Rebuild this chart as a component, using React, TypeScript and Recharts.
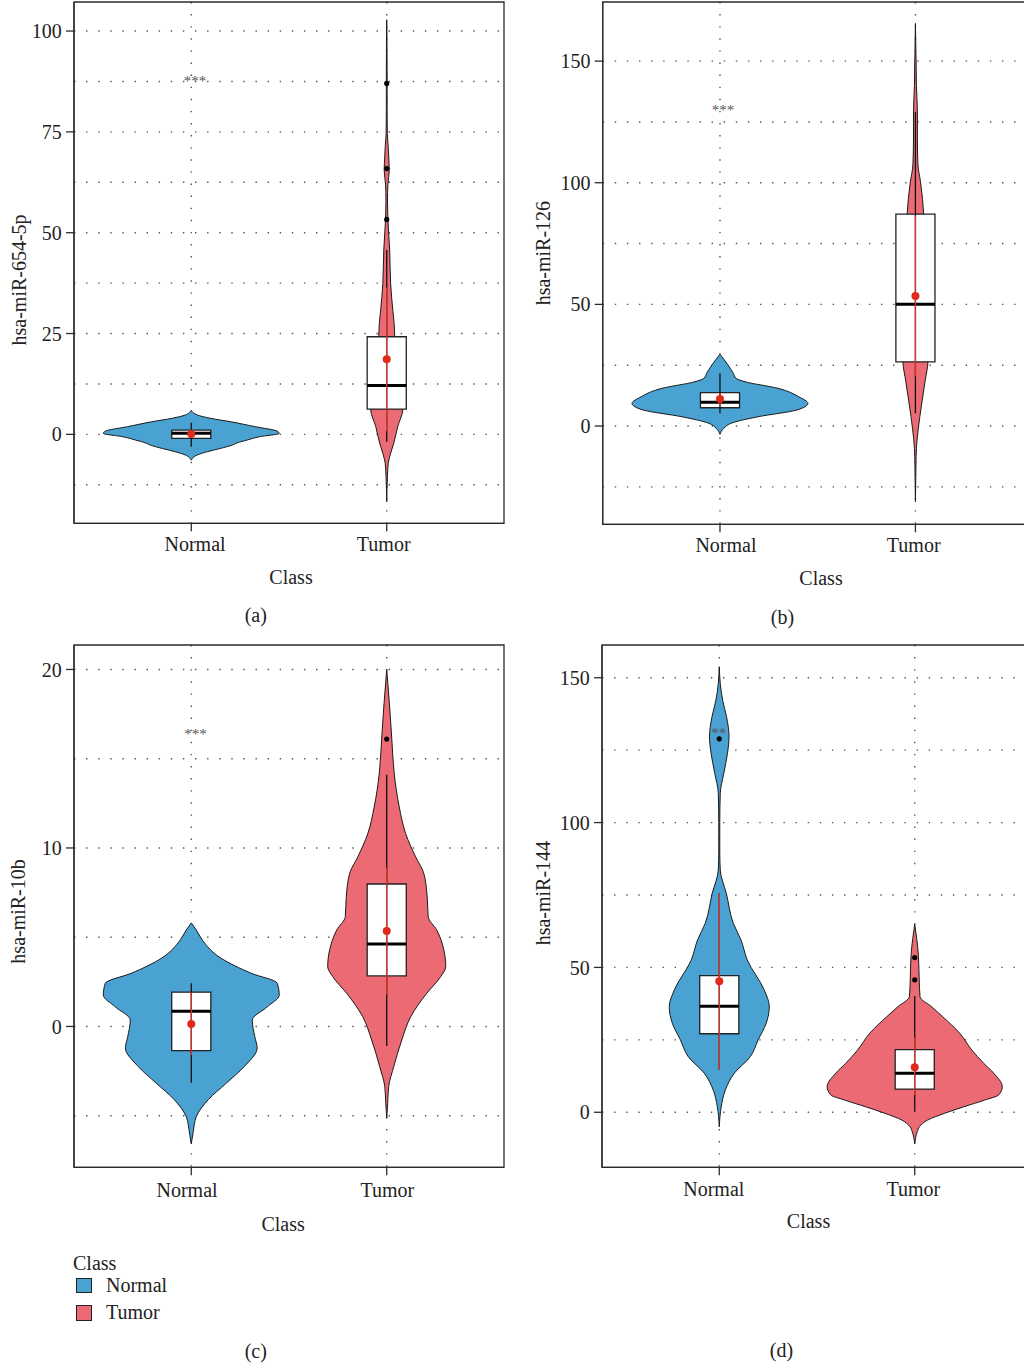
import React from 'react';
import {
  ComposedChart,
  Area,
  XAxis,
  YAxis,
  CartesianGrid,
  ReferenceArea,
  ReferenceLine,
  ReferenceDot,
  Legend,
} from 'recharts';

const FONT = "'Liberation Serif', 'Times New Roman', serif";

// ---------- categories ----------
const CLASSES = ['Normal', 'Tumor'];
const CLASS_X = [1, 2];
const FILL: Record<string, string> = { Normal: '#4AA2D3', Tumor: '#EC6A73' };

// ---------- panel (a): hsa-miR-654-5p ----------
// violin: [expression value, half width of density (category units)]
const A_NORMAL_VIOLIN: [number, number][] = [
  [-6.4, 0], [-5.1, 0.031], [-4.3, 0.082], [-3.5, 0.148], [-2.65, 0.21], [-2.1, 0.235],
  [-1.4, 0.286], [-0.6, 0.348], [0.25, 0.45], [0.8, 0.44], [1.9, 0.327], [3.1, 0.205],
  [4.0, 0.097], [4.8, 0.031], [6.0, 0],
];
const A_TUMOR_VIOLIN: [number, number][] = [
  [-16.7, 0], [-10.5, 0.0036], [-7.2, 0.0077], [-4.7, 0.02], [-2.2, 0.036], [1.9, 0.056],
  [6.2, 0.082], [9, 0.077], [12, 0.066], [15, 0.056], [18, 0.051], [21, 0.046], [24.2, 0.041],
  [27.5, 0.038], [30.8, 0.031], [37.4, 0.02], [45.7, 0.015], [51.9, 0.0077], [57.9, 0.004],
  [62, 0.006], [65.5, 0.013], [69, 0.01], [71.3, 0.0077], [74.6, 0.003], [80, 0.002],
  [90, 0.002], [102.8, 0],
];
const A_STATS = [
  { cls: 'Normal', lower: -3.1, q1: -1.0, median: 0.25, q3: 1.07, upper: 2.9, mean: 0.07, sdLow: -0.9, sdHigh: 1.0, outliers: [] as number[] },
  { cls: 'Tumor', lower: -1.8, q1: 6.27, median: 12.1, q3: 24.2, upper: 45.7, mean: 18.6, sdLow: 0.8, sdHigh: 36.4, outliers: [53.3, 65.9, 87.0] },
];
const A_TICKS = [0, 25, 50, 75, 100];
const A_GRID = [-12.5, 0, 12.5, 25, 37.5, 50, 62.5, 75, 87.5, 100];
const A_DOMAIN: [number, number] = [-22.05, 107.2];
const A_SIG = { text: '***', x: 1.019, y: 86.3 };

// ---------- panel (b): hsa-miR-126 ----------
const B_NORMAL_VIOLIN: [number, number][] = [
  [-3.4, 0], [-0.9, 0.02], [1.1, 0.056], [3.8, 0.194], [6.6, 0.394], [9.3, 0.45], [12.0, 0.404],
  [15.5, 0.297], [18.2, 0.128], [19.6, 0.082], [21.7, 0.068], [25.1, 0.041], [29.5, 0],
];
const B_TUMOR_VIOLIN: [number, number][] = [
  [-31.1, 0], [-16, 0.0026], [-9.2, 0.005], [-0.9, 0.015], [8.6, 0.031], [18.2, 0.049],
  [26.4, 0.064], [35, 0.066], [45, 0.066], [55, 0.061], [65, 0.056], [75, 0.051], [87.4, 0.042],
  [93.6, 0.036], [100.4, 0.026], [107.3, 0.013], [118, 0.01], [129.2, 0.01], [140, 0.005],
  [148.4, 0.0036], [165.5, 0],
];
const B_STATS = [
  { cls: 'Normal', lower: 5.2, q1: 7.5, median: 9.8, q3: 13.7, upper: 21.7, mean: 11.1, sdLow: 8.6, sdHigh: 13.6, outliers: [] as number[] },
  { cls: 'Tumor', lower: 5.2, q1: 26.4, median: 50.1, q3: 87.1, upper: 129.2, mean: 53.4, sdLow: 20.4, sdHigh: 86.4, outliers: [] as number[] },
];
const B_TICKS = [0, 50, 100, 150];
const B_GRID = [-25, 0, 25, 50, 75, 100, 125, 150];
const B_DOMAIN: [number, number] = [-40.4, 174.3];
const B_SIG = { text: '***', x: 1.015, y: 128 };

// ---------- panel (c): hsa-miR-10b ----------
const C_NORMAL_VIOLIN: [number, number][] = [
  [-6.58, 0], [-5.9, 0.01], [-5.05, 0.026], [-4.1, 0.087], [-3.18, 0.179], [-2.25, 0.271],
  [-1.2, 0.337], [-0.57, 0.325], [0.36, 0.312], [1.1, 0.389], [1.76, 0.45], [2.42, 0.44],
  [2.98, 0.307], [3.82, 0.153], [4.85, 0.056], [5.4, 0.026], [5.8, 0],
];
const C_TUMOR_VIOLIN: [number, number][] = [
  [-5.14, 0], [-4.3, 0.005], [-3.37, 0.01], [-2.25, 0.036], [-0.76, 0.077], [0.55, 0.123],
  [1.86, 0.205], [2.79, 0.276], [3.35, 0.302], [4.3, 0.292], [5.4, 0.256], [6.15, 0.212],
  [7.27, 0.207], [8.6, 0.189], [9.5, 0.148], [10.8, 0.097], [12.3, 0.064], [14.2, 0.038],
  [16.1, 0.026], [17.9, 0.015], [20.0, 0],
];
const C_STATS = [
  { cls: 'Normal', lower: -3.15, q1: -1.35, median: 0.85, q3: 1.92, upper: 2.42, mean: 0.14, sdLow: -1.6, sdHigh: 1.9, outliers: [] as number[] },
  { cls: 'Tumor', lower: -1.09, q1: 2.83, median: 4.62, q3: 7.98, upper: 14.1, mean: 5.35, sdLow: 1.8, sdHigh: 8.9, outliers: [16.1] },
];
const C_TICKS = [0, 10, 20];
const C_GRID = [-5, 0, 5, 10, 15, 20];
const C_DOMAIN: [number, number] = [-7.89, 21.37];
const C_SIG = { text: '***', x: 1.022, y: 16.08 };

// ---------- panel (d): hsa-miR-144 ----------
const D_NORMAL_VIOLIN: [number, number][] = [
  [-5, 0], [1.9, 0.01], [7.7, 0.031], [13.5, 0.077], [19.2, 0.159], [25, 0.199], [30.7, 0.24],
  [36.5, 0.256], [42.2, 0.23], [52.6, 0.143], [59.5, 0.111], [65.2, 0.072], [75.6, 0.036],
  [83.6, 0.005], [90, 0.0026], [100, 0.0026], [110.1, 0.005], [117, 0.023], [123.9, 0.042],
  [129.7, 0.05], [136.6, 0.037], [142.3, 0.017], [148, 0.005], [153.8, 0],
];
const D_TUMOR_VIOLIN: [number, number][] = [
  [-10.9, 0], [-6.7, 0.013], [-5, 0.024], [-2.7, 0.066], [-0.35, 0.153], [1.9, 0.251],
  [4.2, 0.358], [6.0, 0.43], [8.8, 0.448], [13.5, 0.404], [16.9, 0.353], [21.5, 0.292],
  [27.3, 0.23], [33, 0.143], [36.5, 0.085], [39.9, 0.027], [45.7, 0.023], [53.7, 0.019],
  [57.2, 0.015], [60, 0.01], [64.9, 0],
];
const D_STATS = [
  { cls: 'Normal', lower: 14.8, q1: 27.1, median: 36.6, q3: 47.2, upper: 75.6, mean: 45.2, sdLow: 14.8, sdHigh: 75.6, outliers: [128.9] },
  { cls: 'Tumor', lower: 0.2, q1: 8.0, median: 13.5, q3: 21.6, upper: 40.1, mean: 15.5, sdLow: 6.0, sdHigh: 25.8, outliers: [45.7, 53.4] },
];
const D_TICKS = [0, 50, 100, 150];
const D_GRID = [0, 25, 50, 75, 100, 125, 150];
const D_DOMAIN: [number, number] = [-19, 161.3];
const D_SIG = { text: '**', x: 0.997, y: 129.3 };

// ---------- helpers ----------
type Stat = (typeof A_STATS)[number];

function buildRows(normal: [number, number][], tumor: [number, number][]) {
  const rows: any[] = [];
  normal.forEach(([v, w]) => rows.push({ v, Normal: [CLASS_X[0] - w, CLASS_X[0] + w], Tumor: [null, null] }));
  tumor.forEach(([v, w]) => rows.push({ v, Normal: [null, null], Tumor: [CLASS_X[1] - w, CLASS_X[1] + w] }));
  return rows;
}

const X_DOMAIN: [number, number] = [0.4, 2.6];
const BOX_HALF = 0.1;
const AXIS_LINE = { stroke: '#2b2b2b', strokeWidth: 1.3 };
const Y_TICK = { fontSize: 20, fontFamily: FONT, fill: '#222' };

const makeXTick = (dxs: number[]) => (props: any) => {
  const { x, y, payload } = props;
  const i = Math.round(payload.value) - 1;
  return (
    <text x={x + dxs[i]} y={y} dy="0.71em" textAnchor="middle" fontSize={20} fontFamily={FONT} fill="#222">
      {CLASSES[i]}
    </text>
  );
};

const makeXLabel = (text: string, dx: number, dy: number) => (props: any) => {
  const vb = props.viewBox || {};
  const x = vb.x + vb.width / 2 + dx;
  const y = vb.y + dy;
  return (
    <text x={x} y={y} textAnchor="middle" fontSize={20} fontFamily={FONT} fill="#222">
      {text}
    </text>
  );
};

const makeYLabel = (text: string, dx: number, dy: number) => (props: any) => {
  const vb = props.viewBox || {};
  const x = vb.x + dx;
  const y = vb.y + vb.height / 2 + dy;
  return (
    <text x={x} y={y} dy="0.33em" transform={`rotate(-90, ${x}, ${y})`} textAnchor="middle" fontSize={20} fontFamily={FONT} fill="#222">
      {text}
    </text>
  );
};

const makeSig = (text: string) => (props: any) => (
  <text x={props.cx} y={props.cy} textAnchor="middle" fontSize={15} fontFamily={FONT} fill="#555">
    {text}
  </text>
);

const LegendContent = (props: any) => {
  const payload = (props.payload || []).filter((e: any) => CLASSES.includes(e.value));
  return (
    <div style={{ position: 'relative', fontFamily: FONT, fontSize: 20, color: '#222', lineHeight: '24px', width: 200, height: 80 }}>
      <div style={{ position: 'absolute', left: 0, top: 0, whiteSpace: 'nowrap' }}>Class</div>
      {payload.map((e: any, i: number) => (
        <div key={e.value} style={{ position: 'absolute', left: 0, top: 20.6 + i * 27.7, height: 27.7, display: 'flex', alignItems: 'center', whiteSpace: 'nowrap' }}>
          <span style={{ display: 'inline-block', width: 13.7, height: 13.7, marginLeft: 3, marginRight: 14.3, background: FILL[e.value], border: '1px solid #222' }} />
          <span style={{ lineHeight: '27.7px' }}>{e.value}</span>
        </div>
      ))}
    </div>
  );
};

const PANELS = [
  {
    key: 'a', left: 0, top: 0, margin: { top: 2, right: 16, left: 14, bottom: 10.7 },
    rows: buildRows(A_NORMAL_VIOLIN, A_TUMOR_VIOLIN), stats: A_STATS, ticks: A_TICKS, grid: A_GRID, domain: A_DOMAIN, sig: A_SIG,
    xTickMargin: 5.2, xTick: makeXTick([3.8, -3]), xLabel: makeXLabel('Class', 2, 60.7), yLabel: makeYLabel('hsa-miR-654-5p', 5, 17.3), legend: false,
  },
  {
    key: 'b', left: 528, top: 0, margin: { top: 2, right: 15.3, left: 14.7, bottom: 9.7 },
    rows: buildRows(B_NORMAL_VIOLIN, B_TUMOR_VIOLIN), stats: B_STATS, ticks: B_TICKS, grid: B_GRID, domain: B_DOMAIN, sig: B_SIG,
    xTickMargin: 5.2, xTick: makeXTick([6, -1.7]), xLabel: makeXLabel('Class', 3.3, 60.7), yLabel: makeYLabel('hsa-miR-126', 0.6, -10), legend: false,
  },
  {
    key: 'c', left: 0, top: 643, margin: { top: 2, right: 16, left: 14, bottom: 9.7 },
    rows: buildRows(C_NORMAL_VIOLIN, C_TUMOR_VIOLIN), stats: C_STATS, ticks: C_TICKS, grid: C_GRID, domain: C_DOMAIN, sig: C_SIG,
    xTickMargin: 7.8, xTick: makeXTick([-4.2, 0.7]), xLabel: makeXLabel('Class', -5.9, 63.4), yLabel: makeYLabel('hsa-miR-10b', 4.3, 5.3), legend: true,
  },
  {
    key: 'd', left: 528, top: 643, margin: { top: 2, right: 16, left: 14, bottom: 9.7 },
    rows: buildRows(D_NORMAL_VIOLIN, D_TUMOR_VIOLIN), stats: D_STATS, ticks: D_TICKS, grid: D_GRID, domain: D_DOMAIN, sig: D_SIG,
    xTickMargin: 6.5, xTick: makeXTick([-5.5, -1.3]), xLabel: makeXLabel('Class', -8.5, 61), yLabel: makeYLabel('hsa-miR-144', 1.5, -13), legend: false,
  },
];

const CAPTIONS = [
  { text: '(a)', x: 255.8, y: 603.4 },
  { text: '(b)', x: 782.5, y: 604.5 },
  { text: '(c)', x: 255.8, y: 1338.5 },
  { text: '(d)', x: 781.5, y: 1338.2 },
];

function boxElements(stats: Stat[]) {
  const els: any[] = [];
  stats.forEach((s, i) => {
    const c = CLASS_X[CLASSES.indexOf(s.cls)];
    els.push(
      <ReferenceArea key={`box-${i}`} x1={c - BOX_HALF} x2={c + BOX_HALF} y1={s.q1} y2={s.q3} fill="#fff" fillOpacity={1} stroke="#222" strokeWidth={1.3} zIndex={200} />
    );
  });
  stats.forEach((s, i) => {
    const c = CLASS_X[CLASSES.indexOf(s.cls)];
    els.push(
      <ReferenceLine key={`wh-${i}`} segment={[{ x: c, y: s.lower }, { x: c, y: s.upper }]} stroke="#111" strokeWidth={1.3} zIndex={250} />
    );
    els.push(
      <ReferenceLine key={`med-${i}`} segment={[{ x: c - BOX_HALF, y: s.median }, { x: c + BOX_HALF, y: s.median }]} stroke="#000" strokeWidth={3} zIndex={300} />
    );
    els.push(
      <ReferenceLine key={`sd-${i}`} segment={[{ x: c, y: s.sdLow }, { x: c, y: s.sdHigh }]} stroke="#E0352A" strokeWidth={1.3} zIndex={350} />
    );
    els.push(
      <ReferenceDot key={`mean-${i}`} x={c} y={s.mean} r={4} fill="#E02A1B" stroke="none" zIndex={400} />
    );
    s.outliers.forEach((o, j) => {
      els.push(<ReferenceDot key={`out-${i}-${j}`} x={c} y={o} r={2.6} fill="#000" stroke="none" zIndex={450} />);
    });
  });
  return els;
}

function Panel({ p }: { p: (typeof PANELS)[number] }) {
  return (
    <div style={{ position: 'absolute', left: p.left, top: p.top }}>
      <ComposedChart width={520} height={600} layout="vertical" data={p.rows} margin={p.margin}>
        <CartesianGrid
          stroke="#555"
          strokeWidth={1.4}
          strokeDasharray="1.4 10.7"
          horizontalValues={p.grid}
          verticalValues={CLASS_X}
        />
        <XAxis
          type="number"
          domain={X_DOMAIN}
          allowDataOverflow
          ticks={CLASS_X}
          interval={0}
          height={66}
          tickSize={8}
          tickMargin={p.xTickMargin}
          tick={p.xTick}
          axisLine={AXIS_LINE}
          tickLine={AXIS_LINE}
          label={p.xLabel}
        />
        <YAxis
          type="number"
          dataKey="v"
          domain={p.domain}
          allowDataOverflow
          reversed
          ticks={p.ticks}
          interval={0}
          width={60}
          tickSize={8}
          tickMargin={4.3}
          tick={Y_TICK}
          axisLine={AXIS_LINE}
          tickLine={AXIS_LINE}
          label={p.yLabel}
        />
        {CLASSES.map((c) => (
          <Area
            key={c}
            dataKey={c}
            name={c}
            type="monotone"
            fill={FILL[c]}
            fillOpacity={1}
            stroke="#1a1a1a"
            strokeWidth={1}
            dot={false}
            activeDot={false}
            legendType="square"
            isAnimationActive={false}
            zIndex={100}
          />
        ))}
        {boxElements(p.stats)}
        <ReferenceDot x={p.sig.x} y={p.sig.y} r={1} shape={makeSig(p.sig.text)} zIndex={460} />
        <ReferenceArea
          x1={X_DOMAIN[0]}
          x2={X_DOMAIN[1]}
          y1={p.domain[0]}
          y2={p.domain[1]}
          fill="none"
          stroke="#2b2b2b"
          strokeWidth={1.3}
          ifOverflow="visible"
          zIndex={500}
        />
        {p.legend ? (
          <Legend
            layout="vertical"
            align="center"
            verticalAlign="middle"
            wrapperStyle={{ left: 73, top: 608, width: 200 }}
            content={LegendContent}
          />
        ) : null}
      </ComposedChart>
    </div>
  );
}

export default function App() {
  return (
    <div style={{ position: 'absolute', left: 0, top: 0, width: 1024, height: 1367, overflow: 'hidden', background: '#fff', fontFamily: FONT }}>
      {PANELS.map((p) => (
        <Panel key={p.key} p={p} />
      ))}
      {CAPTIONS.map((c) => (
        <div
          key={c.text}
          style={{ position: 'absolute', left: c.x - 50, top: c.y, width: 100, textAlign: 'center', fontSize: 20, lineHeight: '24px', color: '#222', fontFamily: FONT }}
        >
          {c.text}
        </div>
      ))}
    </div>
  );
}
